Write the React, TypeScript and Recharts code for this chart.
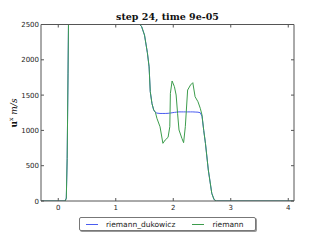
import React from 'react';
import { LineChart, Line, XAxis, YAxis } from 'recharts';

// sample positions along x, shared by both solvers
const positions = [
  -0.3, 0.1, 0.12, 0.14, 0.155, 0.17, 0.18, 0.2, 0.25, 1.2, 1.35, 1.42, 1.45, 1.5, 1.55, 1.58, 1.6, 1.63, 1.66, 1.69,
  1.716, 1.77, 1.82, 1.86, 1.91, 1.94, 1.95, 1.98, 2.02, 2.05, 2.075, 2.1, 2.15, 2.18, 2.21, 2.25, 2.3, 2.34, 2.38,
  2.43, 2.47, 2.5, 2.53, 2.56, 2.61, 2.67, 2.71, 2.75, 4.1,
];
const dukowiczValues = [
  0, 0, 0, 40, 600, 1800, 2700, 3200, 3300, 2700, 2560, 2500, 2470, 2350, 2100, 1900, 1550, 1380, 1290, 1255,
  1245, 1240, 1240, 1240, 1242, 1245, 1246, 1250, 1255, 1258, 1260, 1262, 1262, 1262, 1262, 1262, 1262, 1262, 1260,
  1258, 1250, 1200, 1000, 817, 439, 109, 20, 0, 0,
];
const riemannValues = [
  0, 0, 0, 40, 600, 1800, 2700, 3200, 3300, 2700, 2560, 2500, 2470, 2350, 2100, 1900, 1550, 1380, 1290, 1255,
  1171, 1052, 817, 864, 902, 1052, 1525, 1700, 1620, 1501, 1242, 1006, 888, 826, 1052, 1572, 1643, 1676, 1477,
  1406, 1313, 1218, 1000, 817, 439, 109, 20, 0, 0,
];
const xTicks = [0, 1, 2, 3, 4];
const yTicks = [0, 500, 1000, 1500, 2000, 2500];

const dukowicz = positions.map((x, i) => ({ x, u: dukowiczValues[i] }));
const riemann = positions.map((x, i) => ({ x, u: riemannValues[i] }));

const FRAME = '#555';
const TICK_FONT = { fontFamily: 'DejaVu Sans', fontSize: 7, fill: '#222' };

const BottomTick = ({ x, y, payload }: any) => (
  <g>
    <line x1={x} x2={x} y1={y} y2={y - 3} stroke={FRAME} />
    <text x={x} y={y + 9} textAnchor="middle" {...TICK_FONT}>{payload.value}</text>
  </g>
);
const TopTick = ({ x, y }: any) => <line x1={x} x2={x} y1={y} y2={y + 3} stroke={FRAME} />;
const LeftTick = ({ x, y, payload }: any) => (
  <g>
    <line x1={x} x2={x + 3} y1={y} y2={y} stroke={FRAME} />
    <text x={x - 2} y={y + 2.5} textAnchor="end" {...TICK_FONT}>{payload.value}</text>
  </g>
);
const RightTick = ({ x, y }: any) => <line x1={x} x2={x - 3} y1={y} y2={y} stroke={FRAME} />;

export default function App() {
  return (
    <div style={{ position: 'relative', width: 327, height: 246, background: '#fff' }}>
      <style>{'body{margin:0}'}</style>
      <LineChart width={327} height={246} margin={{ top: 0, right: 0, bottom: 0, left: 0 }}>
        <XAxis dataKey="x" type="number" domain={[-0.3, 4.1]} ticks={xTicks} allowDataOverflow
          height={45} tickSize={0} tickMargin={0} tickLine={false} axisLine={{ stroke: FRAME }} tick={BottomTick} />
        <XAxis xAxisId="top" orientation="top" dataKey="x" type="number" domain={[-0.3, 4.1]} ticks={xTicks}
          allowDataOverflow height={24.5} tickSize={0} tickMargin={0} tickLine={false} axisLine={{ stroke: FRAME }} tick={TopTick} />
        <YAxis type="number" domain={[0, 2500]} ticks={yTicks} allowDataOverflow width={41} tickSize={0}
          tickMargin={0} tickLine={false} axisLine={{ stroke: FRAME }} tick={LeftTick} />
        <YAxis yAxisId="right" orientation="right" type="number" domain={[0, 2500]} ticks={yTicks} allowDataOverflow
          width={33} tickSize={0} tickMargin={0} tickLine={false} axisLine={{ stroke: FRAME }} tick={RightTick} />
        <Line data={dukowicz} dataKey="u" type="linear" stroke="#4a5cf0" strokeWidth={1} dot={false} isAnimationActive={false} />
        <Line data={riemann} dataKey="u" type="linear" stroke="#3c9c4c" strokeWidth={1} dot={false} isAnimationActive={false} />
      </LineChart>
      <div style={{ position: 'absolute', left: 0, width: 335, top: 11, textAlign: 'center', fontFamily: 'DejaVu Serif', fontWeight: 'bold', fontSize: 9.5, color: '#111' }}>
        step 24, time 9e-05
      </div>
      <div style={{ position: 'absolute', left: 13, top: 113, transform: 'translate(-50%, -50%) rotate(-90deg)', whiteSpace: 'nowrap', fontFamily: 'DejaVu Serif', fontSize: 9, color: '#111' }}>
        <b>u</b><sup style={{ fontSize: 6 }}>x</sup> <i>m/s</i>
      </div>
      <div style={{ position: 'absolute', left: 79, top: 217, width: 175, height: 12, border: '1px solid #777', borderRadius: 2, boxShadow: '1px 1px 0 #999', background: '#fff', fontFamily: 'DejaVu Sans', fontSize: 7.5, color: '#222', display: 'flex', alignItems: 'center' }}>
        <span style={{ display: 'inline-block', width: 12, height: 1, background: '#4a5cf0', marginLeft: 6 }} />
        <span style={{ marginLeft: 8 }}>riemann_dukowicz</span>
        <span style={{ display: 'inline-block', width: 12, height: 1, background: '#3c9c4c', marginLeft: 17 }} />
        <span style={{ marginLeft: 8 }}>riemann</span>
      </div>
    </div>
  );
}
